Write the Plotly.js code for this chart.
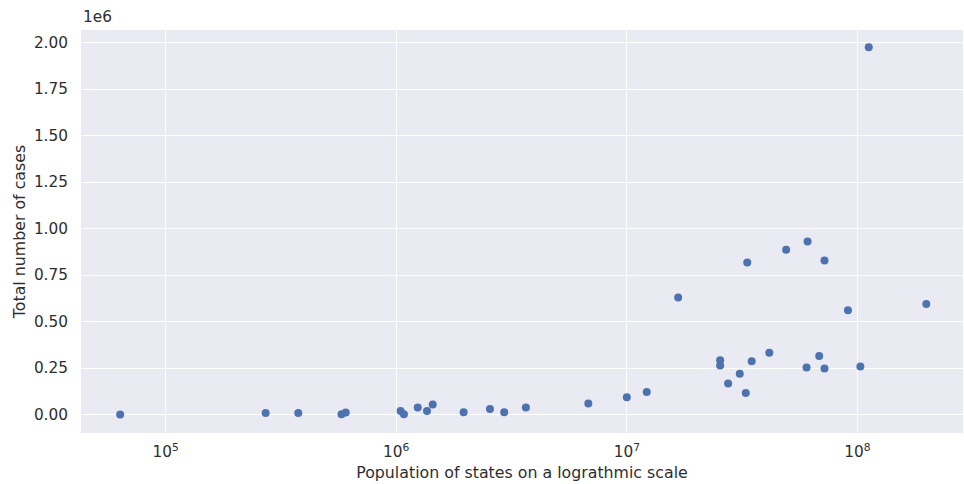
<!DOCTYPE html>
<html>
<head>
<meta charset="utf-8">
<script src="https://cdn.plot.ly/plotly-3.0.1.min.js"></script>
<style>
  html, body { margin: 0; padding: 0; background: #ffffff; }
  #chart { width: 964px; height: 484px; }
</style>
</head>
<body>
<div id="chart"></div>
<script>
// Population of each state / UT
const population = [
  63500, 271500, 376000, 579000, 604000,
  1045000, 1080000, 1240000, 1360000, 1440000,
  1960000, 2550000, 2940000, 3650000, 6810000,
  10000000, 12200000, 16700000, 25400000, 25400000,
  27500000, 30900000, 32800000, 33300000, 34800000,
  41500000, 49100000, 60200000, 60800000, 68300000,
  72000000, 72000000, 91000000, 103000000, 199000000,
  112000000
];

// Total number of cases per state / UT
const totalCases = [
  0, 9000, 9000, 2000, 11000,
  19000, 2000, 38000, 19000, 54000,
  12000, 30000, 12000, 38000, 59000,
  93000, 122000, 630000, 292000, 264000,
  167000, 219000, 116000, 818000, 287000,
  332000, 886000, 253000, 931000, 315000,
  829000, 248000, 561000, 258000, 595000,
  1975000
];

// Axis ticks
const xTickVals = [1e5, 1e6, 1e7, 1e8];
const xTickText = ['10<sup>5</sup>', '10<sup>6</sup>', '10<sup>7</sup>', '10<sup>8</sup>'];
const yTickVals = [0, 250000, 500000, 750000, 1000000, 1250000, 1500000, 1750000, 2000000];
const yTickText = ['0.00', '0.25', '0.50', '0.75', '1.00', '1.25', '1.50', '1.75', '2.00'];

const textColor = '#2e2e2e';
const fontFamily = 'DejaVu Sans, sans-serif';
const tickSize = 15.3;
const titleSize = 15.8;

const trace = {
  type: 'scatter',
  mode: 'markers',
  x: population,
  y: totalCases,
  marker: { color: '#4c72b0', size: 8, line: { width: 0 } },
  hoverinfo: 'x+y'
};

const layout = {
  width: 964,
  height: 484,
  margin: { l: 81, r: 1, t: 30, b: 51 },
  paper_bgcolor: '#ffffff',
  plot_bgcolor: '#eaeaf2',
  font: { family: fontFamily, size: tickSize, color: textColor },
  showlegend: false,
  xaxis: {
    type: 'log',
    range: [4.633, 8.458],
    tickvals: xTickVals,
    ticktext: xTickText,
    showgrid: true,
    gridcolor: '#ffffff',
    gridwidth: 1.2,
    zeroline: false,
    showline: false,
    ticks: 'outside',
    ticklen: 5,
    tickcolor: 'rgba(0,0,0,0)',
    tickfont: { family: fontFamily, size: tickSize, color: textColor },
    title: { text: 'Population of states on a lograthmic scale', standoff: 6,
             font: { family: fontFamily, size: titleSize, color: textColor } }
  },
  yaxis: {
    range: [-99000, 2068000],
    tickvals: yTickVals,
    ticktext: yTickText,
    showgrid: true,
    gridcolor: '#ffffff',
    gridwidth: 1.2,
    zeroline: false,
    showline: false,
    ticks: 'outside',
    ticklen: 9,
    tickcolor: 'rgba(0,0,0,0)',
    tickfont: { family: fontFamily, size: tickSize, color: textColor },
    title: { text: 'Total number of cases', standoff: 4,
             font: { family: fontFamily, size: titleSize, color: textColor } }
  },
  annotations: [{
    text: '1e6',
    xref: 'paper', yref: 'paper',
    x: 0, y: 1,
    xanchor: 'left', yanchor: 'bottom',
    yshift: 2,
    showarrow: false,
    font: { family: fontFamily, size: tickSize, color: textColor }
  }]
};

Plotly.newPlot('chart', [trace], layout, { displayModeBar: false, staticPlot: true });
</script>
</body>
</html>
